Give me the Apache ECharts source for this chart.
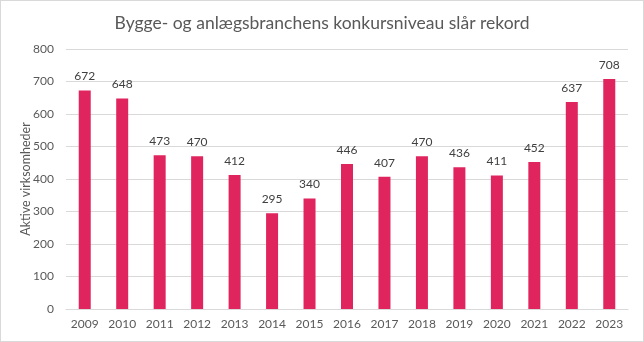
<!DOCTYPE html>
<html><head><meta charset="utf-8">
<script src="https://cdn.jsdelivr.net/npm/echarts@6/dist/echarts.min.js"></script>
<style>html,body{margin:0;padding:0;background:#fff}#c{width:642px;height:340px;border:1px solid #d9d9d9}</style>
</head><body><div id="c"></div>
<script>
const categories = ["2009","2010","2011","2012","2013","2014","2015","2016","2017","2018","2019","2020","2021","2022","2023"];
const values = [672,648,473,470,412,295,340,446,407,470,436,411,452,637,708];
const yTicks = {min:0, max:800, interval:100};
const titleText = "Bygge- og anlægsbranchens konkursniveau slår rekord";
const yName = "Aktive virksomheder";
const chart = echarts.init(document.getElementById('c'));
chart.setOption({
  animation:false,
  title:{text:titleText,left:'center',top:8,textStyle:{fontFamily:'Lato',fontSize:17.5,fontWeight:'normal',color:'#595959'}},
  grid:{left:65,right:15,top:48,bottom:32},
  xAxis:{type:'category',data:categories,axisTick:{show:false},axisLine:{lineStyle:{color:'#d9d9d9'}},
    axisLabel:{color:'#595959',fontFamily:'Lato',fontSize:12,margin:9}},
  yAxis:{type:'value',min:yTicks.min,max:yTicks.max,interval:yTicks.interval,name:yName,nameLocation:'middle',nameGap:34,
    nameMoveOverlap:false,
    nameTextStyle:{color:'#595959',fontFamily:'Lato',fontSize:12.5},
    axisLabel:{color:'#595959',fontFamily:'Lato',fontSize:12,margin:12},
    splitLine:{lineStyle:{color:'#d9d9d9'}}},
  series:[{type:'bar',data:values,barWidth:12,itemStyle:{color:'#E0245E'},
    label:{show:true,position:'top',distance:8,color:'#404040',fontFamily:'Lato',fontSize:12}}]
});
</script></body></html>
